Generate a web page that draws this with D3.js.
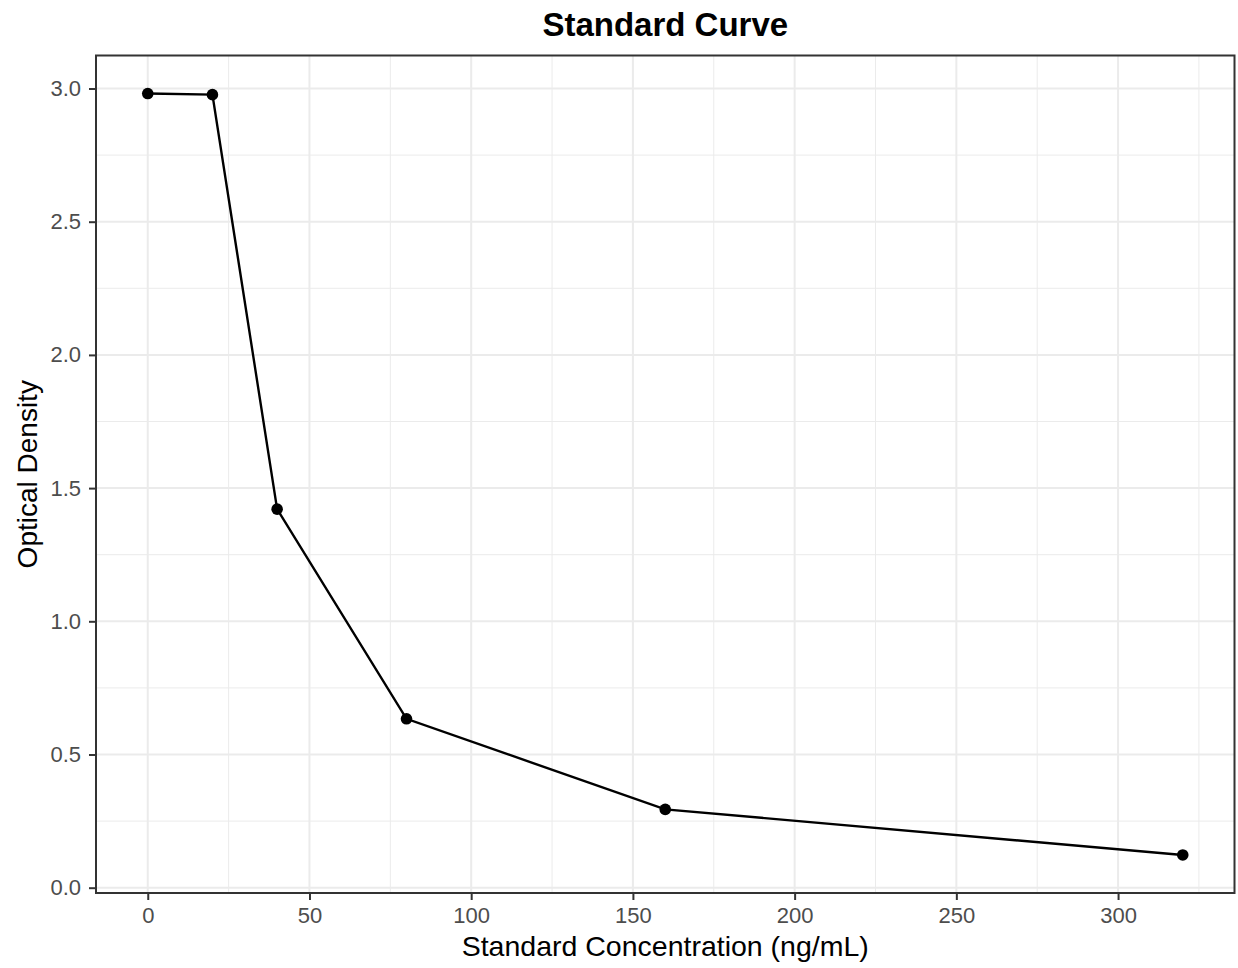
<!DOCTYPE html>
<html>
<head>
<meta charset="utf-8">
<script src="https://cdn.jsdelivr.net/npm/d3@7"></script>
<style>
  body { margin: 0; background: #fff; }
  text { font-family: "Liberation Sans", Arial, sans-serif; }
</style>
</head>
<body>
<div id="chart"></div>
<script>
// data
var concentrations = [0, 20, 40, 80, 160, 320];
var densities = [2.981, 2.977, 1.421, 0.634, 0.294, 0.123];
var xTicks = [0, 50, 100, 150, 200, 250, 300];
var yTicks = [0.0, 0.5, 1.0, 1.5, 2.0, 2.5, 3.0];
var xMinor = [25, 75, 125, 175, 225, 275, 325];
var yMinor = [0.25, 0.75, 1.25, 1.75, 2.25, 2.75];

var svgWidth = 1238, svgHeight = 968;
var margin = { top: 55.5, right: 3.5, bottom: 75, left: 96 };
var width = svgWidth - margin.left - margin.right;
var height = svgHeight - margin.top - margin.bottom;

var svg = d3.select("#chart").append("svg")
  .attr("width", svgWidth)
  .attr("height", svgHeight);

var chartGroup = svg.append("g")
  .attr("transform", `translate(${margin.left}, ${margin.top})`);

// ggplot-style 5% expansion
var xr = d3.extent(concentrations), yr = d3.extent(densities);
var xPad = (xr[1] - xr[0]) * 0.05, yPad = (yr[1] - yr[0]) * 0.05;

var xScale = d3.scaleLinear()
  .domain([xr[0] - xPad, xr[1] + xPad])
  .range([0, width]);
var yScale = d3.scaleLinear()
  .domain([yr[0] - yPad, yr[1] + yPad])
  .range([height, 0]);

// minor grid
chartGroup.selectAll(".xminor").data(xMinor.filter(d => xScale(d) < width)).enter()
  .append("line")
  .attr("x1", d => xScale(d)).attr("x2", d => xScale(d))
  .attr("y1", 0).attr("y2", height)
  .attr("stroke", "#ebebeb").attr("stroke-width", 1);
chartGroup.selectAll(".yminor").data(yMinor).enter()
  .append("line")
  .attr("y1", d => yScale(d)).attr("y2", d => yScale(d))
  .attr("x1", 0).attr("x2", width)
  .attr("stroke", "#ebebeb").attr("stroke-width", 1);

// major grid
chartGroup.selectAll(".xmajor").data(xTicks).enter()
  .append("line")
  .attr("x1", d => xScale(d)).attr("x2", d => xScale(d))
  .attr("y1", 0).attr("y2", height)
  .attr("stroke", "#ebebeb").attr("stroke-width", 2);
chartGroup.selectAll(".ymajor").data(yTicks).enter()
  .append("line")
  .attr("y1", d => yScale(d)).attr("y2", d => yScale(d))
  .attr("x1", 0).attr("x2", width)
  .attr("stroke", "#ebebeb").attr("stroke-width", 2);

// axes
var bottomAxis = d3.axisBottom(xScale).tickValues(xTicks).tickSize(7).tickPadding(7)
  .tickFormat(d3.format("d"));
var leftAxis = d3.axisLeft(yScale).tickValues(yTicks).tickSize(7).tickPadding(8)
  .tickFormat(d3.format(".1f"));

var xAxis = chartGroup.append("g")
  .attr("transform", `translate(0, ${height})`)
  .call(bottomAxis);
var yAxis = chartGroup.append("g")
  .call(leftAxis);

[xAxis, yAxis].forEach(function(ax) {
  ax.select(".domain").remove();
  ax.selectAll(".tick line").attr("stroke", "#333333").attr("stroke-width", 2);
  ax.selectAll(".tick text")
    .attr("fill", "#4d4d4d")
    .style("font-size", "22px")
    .style("font-family", "Liberation Sans, Arial, sans-serif");
});

// line + points
var line = d3.line()
  .x((d, i) => xScale(concentrations[i]))
  .y(d => yScale(d));

chartGroup.append("path")
  .datum(densities)
  .attr("d", line)
  .attr("fill", "none")
  .attr("stroke", "black")
  .attr("stroke-width", 2.4);

chartGroup.selectAll("circle")
  .data(densities)
  .enter()
  .append("circle")
  .attr("cx", (d, i) => xScale(concentrations[i]))
  .attr("cy", d => yScale(d))
  .attr("r", 5.8)
  .attr("fill", "black");

// panel border
chartGroup.append("rect")
  .attr("x", 0).attr("y", 0)
  .attr("width", width).attr("height", height)
  .attr("fill", "none")
  .attr("stroke", "#333333")
  .attr("stroke-width", 2);

// titles
svg.append("text")
  .attr("x", margin.left + width / 2)
  .attr("y", 36)
  .attr("text-anchor", "middle")
  .style("font-size", "33px")
  .style("font-weight", "bold")
  .attr("fill", "black")
  .text("Standard Curve");

svg.append("text")
  .attr("x", margin.left + width / 2)
  .attr("y", 956)
  .attr("text-anchor", "middle")
  .style("font-size", "28.5px")
  .attr("fill", "black")
  .text("Standard Concentration (ng/mL)");

svg.append("text")
  .attr("transform", `translate(37, ${margin.top + height / 2}) rotate(-90)`)
  .attr("text-anchor", "middle")
  .style("font-size", "28px")
  .attr("fill", "black")
  .text("Optical Density");
</script>
</body>
</html>
